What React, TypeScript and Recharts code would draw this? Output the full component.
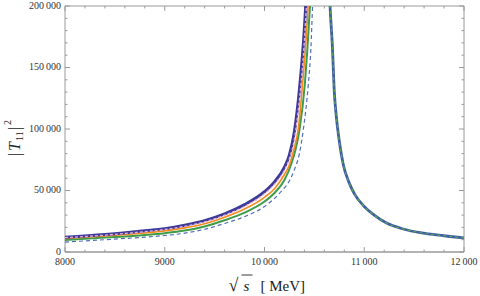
import React from 'react';
import { LineChart, Line, XAxis, YAxis, ReferenceLine } from 'recharts';

// frame ticks (Mathematica-style, pointing inward on all four sides)
const xMajor = [8000, 9000, 10000, 11000, 12000];
const xMinor = [8200, 8400, 8600, 8800, 9200, 9400, 9600, 9800, 10200, 10400, 10600, 10800, 11200, 11400, 11600, 11800];
const yMajor = [0, 50000, 100000, 150000, 200000];
const yMinor = [10000, 20000, 30000, 40000, 60000, 70000, 80000, 90000, 110000, 120000, 130000, 140000, 160000, 170000, 180000, 190000];

// left branch, one array per curve
const purple = [
  { x: 8000, y: 12000 }, { x: 8400, y: 14200 }, { x: 8800, y: 17300 }, { x: 9000, y: 19000 },
  { x: 9200, y: 21800 }, { x: 9400, y: 25500 }, { x: 9600, y: 31000 }, { x: 9800, y: 38500 },
  { x: 10000, y: 49000 }, { x: 10100, y: 57000 }, { x: 10200, y: 69000 }, { x: 10250, y: 79000 },
  { x: 10300, y: 98000 }, { x: 10350, y: 132000 }, { x: 10390, y: 170000 }, { x: 10413, y: 200000 },
  { x: 10430, y: 230000 },
];
const pink = [
  { x: 8000, y: 11700 }, { x: 8400, y: 13700 }, { x: 8800, y: 16600 }, { x: 9000, y: 18300 },
  { x: 9200, y: 20900 }, { x: 9400, y: 24500 }, { x: 9600, y: 29900 }, { x: 9800, y: 37000 },
  { x: 10000, y: 47300 }, { x: 10100, y: 55000 }, { x: 10200, y: 66500 }, { x: 10250, y: 76000 },
  { x: 10300, y: 92000 }, { x: 10350, y: 124000 }, { x: 10390, y: 160000 }, { x: 10420, y: 200000 },
  { x: 10440, y: 230000 },
];
const orange = [
  { x: 8000, y: 11000 }, { x: 8400, y: 13000 }, { x: 8800, y: 15500 }, { x: 9000, y: 17200 },
  { x: 9200, y: 19600 }, { x: 9400, y: 23000 }, { x: 9600, y: 28300 }, { x: 9800, y: 35000 },
  { x: 10000, y: 44500 }, { x: 10100, y: 51500 }, { x: 10200, y: 63000 }, { x: 10250, y: 71000 },
  { x: 10300, y: 85000 }, { x: 10340, y: 101000 }, { x: 10380, y: 135000 }, { x: 10410, y: 165000 },
  { x: 10437, y: 200000 }, { x: 10455, y: 230000 },
];
const green = [
  { x: 8000, y: 9800 }, { x: 8400, y: 11700 }, { x: 8800, y: 13800 }, { x: 9000, y: 15300 },
  { x: 9200, y: 17400 }, { x: 9400, y: 20800 }, { x: 9600, y: 25800 }, { x: 9800, y: 32000 },
  { x: 10000, y: 41000 }, { x: 10100, y: 48000 }, { x: 10200, y: 58500 }, { x: 10270, y: 72000 },
  { x: 10310, y: 83000 }, { x: 10350, y: 99000 }, { x: 10405, y: 137000 }, { x: 10430, y: 165000 },
  { x: 10456, y: 200000 }, { x: 10475, y: 230000 },
];
const blueDashed = [
  { x: 8000, y: 8100 }, { x: 8400, y: 10000 }, { x: 8800, y: 12100 }, { x: 9000, y: 13400 },
  { x: 9200, y: 15300 }, { x: 9400, y: 18500 }, { x: 9600, y: 23200 }, { x: 9800, y: 28800 },
  { x: 10000, y: 37000 }, { x: 10150, y: 47700 }, { x: 10250, y: 58000 }, { x: 10300, y: 67000 },
  { x: 10350, y: 80000 }, { x: 10390, y: 100000 }, { x: 10440, y: 137000 }, { x: 10465, y: 165000 },
  { x: 10482, y: 200000 }, { x: 10500, y: 230000 },
];
// right branch, all curves coincide
const rightBranch = [
  { x: 10640, y: 235000 }, { x: 10657, y: 200000 }, { x: 10680, y: 168000 }, { x: 10700, y: 130000 },
  { x: 10720, y: 110000 }, { x: 10750, y: 90000 }, { x: 10790, y: 71000 }, { x: 10850, y: 56000 },
  { x: 10900, y: 47500 }, { x: 11000, y: 37000 }, { x: 11100, y: 30000 }, { x: 11224, y: 23500 },
  { x: 11400, y: 18500 }, { x: 11560, y: 15700 }, { x: 11800, y: 13200 }, { x: 12000, y: 11500 },
];

const FRAME = '#9a9a9a';
const FONT = '"Liberation Serif", "DejaVu Serif", serif';

const fmt = (v: number) => {
  if (Math.abs(v) < 10000) return String(v);
  const s = String(v);
  return s.slice(0, s.length - 3) + '\u2009' + s.slice(s.length - 3);
};

const XTitle = (props: any) => {
  const vb = props.viewBox || {};
  const cx = vb.x + vb.width / 2;
  return (
    <g fontFamily={FONT} fill="#222">
      <text x={cx - 36} y={291} fontSize={18}>√</text>
      <line x1={cx - 23} x2={cx - 12} y1={275} y2={275} stroke="#222" strokeWidth={0.9} />
      <text x={cx - 21} y={291} fontSize={15} fontStyle="italic">s</text>
      <text x={cx - 4} y={291} fontSize={15}>[ MeV]</text>
    </g>
  );
};

const YTitle = () => (
  <g transform="translate(20,134) rotate(-90)" fontFamily={FONT} fill="#222">
    <text x={-22} y={0} fontSize={16}>|</text>
    <text x={-17} y={0} fontSize={16} fontStyle="italic">T</text>
    <text x={-7} y={3} fontSize={10}>11</text>
    <text x={4} y={0} fontSize={16}>|</text>
    <text x={9} y={-9} fontSize={10}>2</text>
  </g>
);

export default function App() {
  const tickLines: React.ReactNode[] = [];
  xMajor.forEach((v) => {
    tickLines.push(<ReferenceLine key={'xb' + v} segment={[{ x: v, y: 0 }, { x: v, y: 4000 }]} stroke={FRAME} />);
    tickLines.push(<ReferenceLine key={'xt' + v} segment={[{ x: v, y: 200000 }, { x: v, y: 196000 }]} stroke={FRAME} />);
  });
  xMinor.forEach((v) => {
    tickLines.push(<ReferenceLine key={'xbm' + v} segment={[{ x: v, y: 0 }, { x: v, y: 2000 }]} stroke={FRAME} />);
    tickLines.push(<ReferenceLine key={'xtm' + v} segment={[{ x: v, y: 200000 }, { x: v, y: 198000 }]} stroke={FRAME} />);
  });
  yMajor.forEach((v) => {
    tickLines.push(<ReferenceLine key={'yl' + v} segment={[{ x: 8000, y: v }, { x: 8050, y: v }]} stroke={FRAME} />);
    tickLines.push(<ReferenceLine key={'yr' + v} segment={[{ x: 12000, y: v }, { x: 11950, y: v }]} stroke={FRAME} />);
  });
  yMinor.forEach((v) => {
    tickLines.push(<ReferenceLine key={'ylm' + v} segment={[{ x: 8000, y: v }, { x: 8025, y: v }]} stroke={FRAME} />);
    tickLines.push(<ReferenceLine key={'yrm' + v} segment={[{ x: 12000, y: v }, { x: 11975, y: v }]} stroke={FRAME} />);
  });

  return (
    <div style={{ position: 'absolute', left: 0, top: 0, width: 480, height: 296, background: '#fff' }}>
      <LineChart width={480} height={296} margin={{ top: 6, right: 16, bottom: 0, left: 0 }}>
        <XAxis
          type="number"
          dataKey="x"
          domain={[8000, 12000]}
          ticks={xMajor}
          allowDataOverflow
          height={44}
          tickLine={false}
          axisLine={false}
          tickSize={0}
          tickMargin={6}
          tickFormatter={fmt}
          tick={{ fontSize: 10, fill: '#333', fontFamily: FONT }}
          label={<XTitle />}
        />
        <YAxis
          type="number"
          domain={[0, 200000]}
          ticks={yMajor}
          allowDataOverflow
          width={65}
          tickLine={false}
          axisLine={false}
          tickSize={0}
          tickMargin={4}
          tickFormatter={fmt}
          tick={{ fontSize: 10, fill: '#333', fontFamily: FONT, dy: -1 }}
          label={<YTitle />}
        />
        <ReferenceLine x={8000} stroke={FRAME} ifOverflow="visible" />
        <ReferenceLine x={12000} stroke={FRAME} ifOverflow="visible" />
        <ReferenceLine y={200000} stroke={FRAME} ifOverflow="visible" />
        <ReferenceLine y={0} stroke={FRAME} strokeWidth={1.5} ifOverflow="visible" />
        {tickLines}
        <Line data={blueDashed} dataKey="y" type="monotone" stroke="#4f6fb8" strokeWidth={1.2} strokeDasharray="4 3" dot={false} isAnimationActive={false} />
        <Line data={green} dataKey="y" type="monotone" stroke="#3f9c48" strokeWidth={2} dot={false} isAnimationActive={false} />
        <Line data={orange} dataKey="y" type="monotone" stroke="#f58a1f" strokeWidth={1.6} dot={false} isAnimationActive={false} />
        <Line data={purple} dataKey="y" type="monotone" stroke="#3d3a98" strokeWidth={3} dot={false} isAnimationActive={false} />
        <Line data={pink} dataKey="y" type="monotone" stroke="#e8b0d0" strokeWidth={1.3} strokeDasharray="3 2" dot={false} isAnimationActive={false} />
        <Line data={rightBranch} dataKey="y" type="monotone" stroke="#3f5f9f" strokeWidth={2.8} dot={false} isAnimationActive={false} />
        <Line data={rightBranch} dataKey="y" type="monotone" stroke="#5aae4c" strokeWidth={1.1} strokeDasharray="3 3" dot={false} isAnimationActive={false} />
      </LineChart>
    </div>
  );
}
